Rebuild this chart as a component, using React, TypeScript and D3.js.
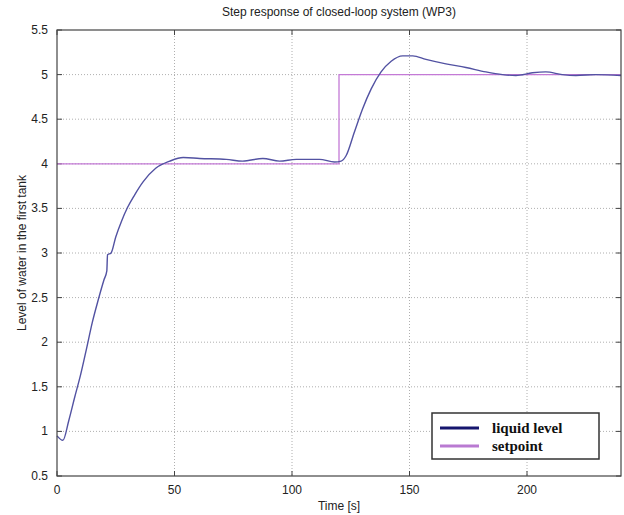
import React, { useEffect, useRef } from 'react';
import * as d3 from 'd3';

// liquid level
const timeS = [0, 2.5, 5, 7.5, 10, 12.5, 15, 17.5, 20, 21.2, 21.5, 23, 25, 27.5, 30, 33, 36.7, 42, 48, 53.7, 60.7, 72, 79, 87.6, 94.7, 101.8, 111.7, 118.1, 120.9, 123, 126.6, 130.1, 133.7, 137.9, 142.2, 147.1, 151.4, 157, 165.5, 174, 182.5, 189.6, 195.3, 202.3, 208, 215, 220.8, 229.3, 240];
const level = [0.95, 0.9, 1.12, 1.38, 1.63, 1.92, 2.22, 2.47, 2.7, 2.8, 2.98, 3.0, 3.18, 3.36, 3.51, 3.65, 3.8, 3.95, 4.03, 4.07, 4.06, 4.05, 4.03, 4.06, 4.03, 4.05, 4.05, 4.02, 4.03, 4.09, 4.36, 4.62, 4.84, 5.03, 5.15, 5.21, 5.21, 5.17, 5.12, 5.08, 5.03, 5.0, 4.99, 5.02, 5.03, 5.0, 4.99, 5.0, 4.99];

// setpoint
const setTime = [0, 120, 120, 240];
const setLevel = [4, 4, 5, 5];

const xTicks = [0, 50, 100, 150, 200];
const yTicks = [0.5, 1, 1.5, 2, 2.5, 3, 3.5, 4, 4.5, 5, 5.5];
const legendLabels = ['liquid level', 'setpoint'];

const App = () => {
  const ref = useRef<SVGSVGElement>(null);

  useEffect(() => {
    const svg = d3.select(ref.current);
    svg.selectAll('*').remove();

    const left = 57, right = 621, top = 30, bottom = 476;
    const x = d3.scaleLinear().domain([0, 240]).range([left, right]);
    const y = d3.scaleLinear().domain([0.5, 5.5]).range([bottom, top]);
    const font = 'Liberation Sans, Arial, sans-serif';

    svg.append('rect').attr('width', 624).attr('height', 515).attr('fill', '#fff');

    // grid
    const grid = svg.append('g').attr('stroke', '#9a9a9a').attr('stroke-width', 0.8).attr('stroke-dasharray', '1,2');
    xTicks.filter(d => d > 0).forEach(d => {
      grid.append('line').attr('x1', x(d)).attr('x2', x(d)).attr('y1', top).attr('y2', bottom);
    });
    yTicks.filter(d => d > 0.5 && d < 5.5).forEach(d => {
      grid.append('line').attr('x1', left).attr('x2', right).attr('y1', y(d)).attr('y2', y(d));
    });

    // tick marks inside the box
    const tk = svg.append('g').attr('stroke', '#444').attr('stroke-width', 1);
    xTicks.forEach(d => {
      tk.append('line').attr('x1', x(d)).attr('x2', x(d)).attr('y1', bottom).attr('y2', bottom - 5);
      tk.append('line').attr('x1', x(d)).attr('x2', x(d)).attr('y1', top).attr('y2', top + 5);
    });
    yTicks.forEach(d => {
      tk.append('line').attr('x1', left).attr('x2', left + 5).attr('y1', y(d)).attr('y2', y(d));
      tk.append('line').attr('x1', right).attr('x2', right - 5).attr('y1', y(d)).attr('y2', y(d));
    });

    // data lines
    const line = d3.line<[number, number]>().x(d => x(d[0])).y(d => y(d[1]));
    svg.append('path')
      .datum(setTime.map((t, i) => [t, setLevel[i]] as [number, number]))
      .attr('d', line)
      .attr('fill', 'none')
      .attr('stroke', '#c47ad6')
      .attr('stroke-width', 1.3);
    svg.append('path')
      .datum(timeS.map((t, i) => [t, level[i]] as [number, number]))
      .attr('d', line.curve(d3.curveMonotoneX))
      .attr('fill', 'none')
      .attr('stroke', '#5252a2')
      .attr('stroke-width', 1.4);

    // box
    svg.append('rect')
      .attr('x', left).attr('y', top)
      .attr('width', right - left).attr('height', bottom - top)
      .attr('fill', 'none').attr('stroke', '#444').attr('stroke-width', 1.2);

    // tick labels
    xTicks.forEach(d => {
      svg.append('text').attr('x', x(d)).attr('y', 494)
        .attr('text-anchor', 'middle').attr('font-family', font).attr('font-size', 12).attr('fill', '#222')
        .text(d);
    });
    yTicks.forEach(d => {
      svg.append('text').attr('x', 48).attr('y', y(d) + 4)
        .attr('text-anchor', 'end').attr('font-family', font).attr('font-size', 12).attr('fill', '#222')
        .text(d);
    });

    // titles
    svg.append('text').attr('x', (left + right) / 2).attr('y', 16)
      .attr('text-anchor', 'middle').attr('font-family', font).attr('font-size', 12).attr('fill', '#222')
      .text('Step response of closed-loop system (WP3)');
    svg.append('text').attr('x', (left + right) / 2).attr('y', 510)
      .attr('text-anchor', 'middle').attr('font-family', font).attr('font-size', 12).attr('fill', '#222')
      .text('Time [s]');
    svg.append('text')
      .attr('transform', `translate(26,${(top + bottom) / 2}) rotate(-90)`)
      .attr('text-anchor', 'middle').attr('font-family', font).attr('font-size', 12).attr('fill', '#222')
      .text('Level of water in the first tank');

    // legend
    const lg = svg.append('g');
    lg.append('rect').attr('x', 432).attr('y', 413).attr('width', 167).attr('height', 46)
      .attr('fill', '#fff').attr('stroke', '#333').attr('stroke-width', 1.5);
    const legendColors = ['#16166e', '#b97ad2'];
    legendLabels.forEach((label, i) => {
      const ly = 428 + i * 18;
      lg.append('line').attr('x1', 440).attr('x2', 479).attr('y1', ly).attr('y2', ly)
        .attr('stroke', legendColors[i]).attr('stroke-width', 3);
      lg.append('text').attr('x', 492).attr('y', ly + 5)
        .attr('font-family', 'Liberation Serif, Times New Roman, serif').attr('font-weight', 'bold')
        .attr('font-size', 15).attr('fill', '#111')
        .text(label);
    });
  }, []);

  return (
    <svg ref={ref} width={624} height={515} style={{ position: 'absolute', left: 0, top: 0 }} />
  );
};

export default App;
